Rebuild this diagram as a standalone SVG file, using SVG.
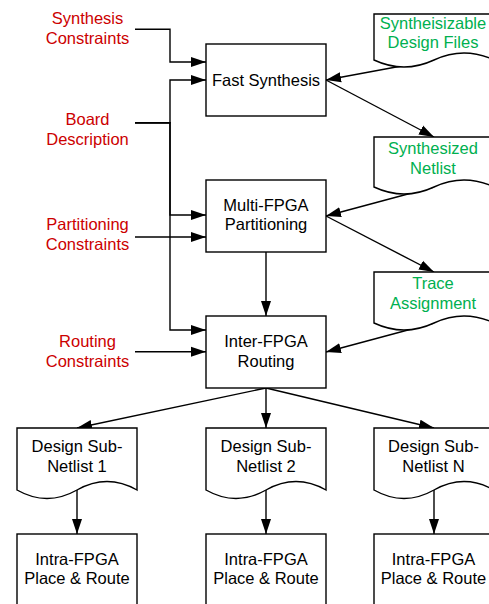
<svg xmlns="http://www.w3.org/2000/svg" width="489" height="604" viewBox="0 0 489 604">
  <defs>
    <marker id="arrow" markerUnits="userSpaceOnUse" markerWidth="16" markerHeight="11" refX="15" refY="5" orient="auto" viewBox="0 0 16 10">
      <path d="M0,0 L15,5 L0,10 Z" fill="#000"/>
    </marker>
  </defs>
  <style>
    .box { fill: #fff; stroke: #000; stroke-width: 1.4; }
    .doc { fill: #fff; stroke: #000; stroke-width: 1.4; }
    .edge { fill: none; stroke: #000; stroke-width: 1.4; }
    .arr { marker-end: url(#arrow); }
    text { font-family: "Liberation Sans", Arial, sans-serif; font-size: 16.5px; text-anchor: middle; }
    .black { fill: #000; }
    .red { fill: #cc0000; }
    .green { fill: #00b050; }
  </style>

  <rect width="489" height="604" fill="#fff"/>

  <!-- connectors -->
  <g id="connectors">
    <path class="edge arr" d="M135,29.3 H170 V62 H206"/>
    <path class="edge arr" d="M135,122.7 H170 V80 H206"/>
    <path class="edge arr" d="M135,122.7 H170 V215 H206"/>
    <path class="edge arr" d="M135,122.7 H170 V330 H206"/>
    <path class="edge arr" d="M135,237 H206"/>
    <path class="edge arr" d="M135,351.7 H206"/>
    <path class="edge arr" d="M434,60 L326,80"/>
    <path class="edge arr" d="M326,80 L434,137"/>
    <path class="edge arr" d="M434,187 L326,216"/>
    <path class="edge arr" d="M326,216 L434,272"/>
    <path class="edge arr" d="M266,252 V316"/>
    <path class="edge arr" d="M434,323 L326,352"/>
    <path class="edge arr" d="M266,388 L77,428"/>
    <path class="edge arr" d="M266,388 V428"/>
    <path class="edge arr" d="M266,388 L434,428"/>
    <path class="edge arr" d="M77,490 V534"/>
    <path class="edge arr" d="M266,490 V534"/>
    <path class="edge arr" d="M434,490 V534"/>
  </g>

  <!-- input labels -->
  <g id="synthesis-constraints">
    <text class="red" x="87.5" y="24">Synthesis</text>
    <text class="red" x="87.5" y="44">Constraints</text>
  </g>
  <g id="board-description">
    <text class="red" x="87.5" y="125">Board</text>
    <text class="red" x="87.5" y="145">Description</text>
  </g>
  <g id="partitioning-constraints">
    <text class="red" x="87.5" y="230">Partitioning</text>
    <text class="red" x="87.5" y="250">Constraints</text>
  </g>
  <g id="routing-constraints">
    <text class="red" x="87.5" y="346.5">Routing</text>
    <text class="red" x="87.5" y="366.5">Constraints</text>
  </g>

  <!-- process steps -->
  <g id="fast-synthesis">
    <rect class="box" x="206" y="44" width="120" height="72"/>
    <text class="black" x="266" y="86">Fast Synthesis</text>
  </g>
  <g id="multi-fpga-partitioning">
    <rect class="box" x="206" y="180" width="120" height="72"/>
    <text class="black" x="266" y="211">Multi-FPGA</text>
    <text class="black" x="266" y="230">Partitioning</text>
  </g>
  <g id="inter-fpga-routing">
    <rect class="box" x="206" y="316" width="120" height="72"/>
    <text class="black" x="266" y="347">Inter-FPGA</text>
    <text class="black" x="266" y="366.5">Routing</text>
  </g>

  <!-- design files -->
  <g id="synthesizable-design-files">
    <path class="doc" d="M374,14 H494 V60 Q464,46 434,60 Q404,74 374,60 Z"/>
    <text class="green" x="433" y="28.5">Syntheisizable</text>
    <text class="green" x="433" y="48">Design Files</text>
  </g>
  <g id="synthesized-netlist">
    <path class="doc" d="M374,137 H494 V187 Q464,173 434,187 Q404,201 374,187 Z"/>
    <text class="green" x="433" y="154">Synthesized</text>
    <text class="green" x="433" y="173.5">Netlist</text>
  </g>
  <g id="trace-assignment">
    <path class="doc" d="M374,272 H494 V323 Q464,309 434,323 Q404,337 374,323 Z"/>
    <text class="green" x="433" y="289">Trace</text>
    <text class="green" x="433" y="309">Assignment</text>
  </g>

  <!-- sub-netlists -->
  <g id="sub-netlist-1">
    <path class="doc" d="M17,428 H137 V490 Q107,473 77,490 Q47,507 17,490 Z"/>
    <text class="black" x="77" y="452.3">Design Sub-</text>
    <text class="black" x="77" y="471.7">Netlist 1</text>
  </g>
  <g id="sub-netlist-2">
    <path class="doc" d="M206,428 H326 V490 Q296,473 266,490 Q236,507 206,490 Z"/>
    <text class="black" x="266" y="452.3">Design Sub-</text>
    <text class="black" x="266" y="471.7">Netlist 2</text>
  </g>
  <g id="sub-netlist-n">
    <path class="doc" d="M374,428 H494 V490 Q464,473 434,490 Q404,507 374,490 Z"/>
    <text class="black" x="433.5" y="452.3">Design Sub-</text>
    <text class="black" x="433.5" y="471.7">Netlist N</text>
  </g>

  <!-- place and route -->
  <g id="intra-fpga-1">
    <rect class="box" x="17" y="534" width="120" height="72"/>
    <text class="black" x="77" y="565">Intra-FPGA</text>
    <text class="black" x="77" y="584.3">Place &amp; Route</text>
  </g>
  <g id="intra-fpga-2">
    <rect class="box" x="206" y="534" width="120" height="72"/>
    <text class="black" x="266" y="565">Intra-FPGA</text>
    <text class="black" x="266" y="584.3">Place &amp; Route</text>
  </g>
  <g id="intra-fpga-n">
    <rect class="box" x="374" y="534" width="120" height="72"/>
    <text class="black" x="433.5" y="565">Intra-FPGA</text>
    <text class="black" x="433.5" y="584.3">Place &amp; Route</text>
  </g>
</svg>
